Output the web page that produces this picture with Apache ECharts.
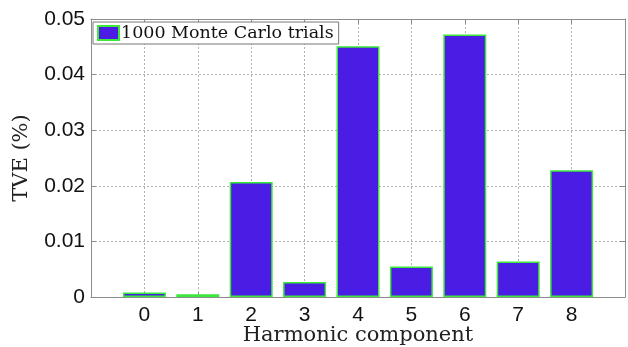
<!DOCTYPE html>
<html>
<head>
<meta charset="utf-8">
<script src="https://cdn.jsdelivr.net/npm/echarts@6/dist/echarts.min.js"></script>
<style>
  html, body { margin: 0; padding: 0; background: #fff; }
  #chart { width: 628px; height: 347px; }
</style>
</head>
<body>
<div id="chart"></div>
<script>
// harmonic index and TVE (%)
const harmonics = [0, 1, 2, 3, 4, 5, 6, 7, 8];
const tve = [0.0008, 0.0005, 0.0207, 0.0027, 0.0451, 0.0055, 0.0472, 0.0064, 0.0228];
const yTicks = [0, 0.01, 0.02, 0.03, 0.04, 0.05];
const seriesName = '1000 Monte Carlo trials';

const chart = echarts.init(document.getElementById('chart'));

const frameColor = '#8c8c8c';
const frameLine = { show: true, onZero: false, lineStyle: { color: frameColor } };
const gridLine = { show: true, lineStyle: { color: '#b0b0b0', type: [2, 2], width: 1 } };
const tickIn = { show: true, inside: true, length: 5, lineStyle: { color: frameColor } };
const tickFont = { fontFamily: 'Liberation Sans', fontSize: 21, color: '#111' };
const serif = { fontFamily: 'DejaVu Serif', fontSize: 21, color: '#222' };

chart.setOption({
  animation: false,
  backgroundColor: '#fff',
  grid: { left: 91, right: 3, top: 19, bottom: 50, outerBoundsMode: 'none' },
  legend: {
    left: 93, top: 22,
    padding: [2, 5, 2, 4],
    itemGap: 0,
    itemWidth: 21, itemHeight: 14,
    icon: 'rect',
    backgroundColor: '#fff',
    borderColor: '#777', borderWidth: 1,
    textStyle: { fontFamily: 'DejaVu Serif', fontSize: 17.5, color: '#111', padding: [0, 0, 0, -3] },
    data: [seriesName]
  },
  xAxis: [{
    type: 'value', min: -1, max: 9, interval: 1,
    name: 'Harmonic component', nameLocation: 'middle', nameGap: 28,
    nameMoveOverlap: false,
    nameTextStyle: serif,
    axisLine: frameLine,
    axisTick: tickIn,
    splitLine: gridLine,
    axisLabel: Object.assign({ margin: 8,
      formatter: v => harmonics.indexOf(v) >= 0 ? String(v) : '' }, tickFont)
  }, {
    type: 'value', min: -1, max: 9, interval: 1, position: 'top',
    axisLine: frameLine,
    axisTick: tickIn, axisLabel: { show: false }, splitLine: { show: false }
  }],
  yAxis: [{
    type: 'value', min: yTicks[0], max: yTicks[yTicks.length - 1], interval: 0.01,
    name: 'TVE (%)', nameLocation: 'middle', nameGap: 59,
    nameMoveOverlap: false,
    nameTextStyle: serif,
    axisLine: frameLine,
    axisTick: tickIn,
    splitLine: gridLine,
    axisLabel: Object.assign({ margin: 6,
      formatter: v => v === 0 ? '0' : v.toFixed(2) }, tickFont)
  }, {
    type: 'value', min: 0, max: 0.05, interval: 0.01, position: 'right',
    axisLine: frameLine,
    axisTick: tickIn, axisLabel: { show: false }, splitLine: { show: false }
  }],
  series: [{
    name: seriesName,
    type: 'bar',
    barWidth: 43,
    itemStyle: { color: '#4b1ce3', borderColor: '#3be83b', borderWidth: 1.5 },
    data: harmonics.map((h, i) => [h, tve[i]])
  }]
});
</script>
</body>
</html>
